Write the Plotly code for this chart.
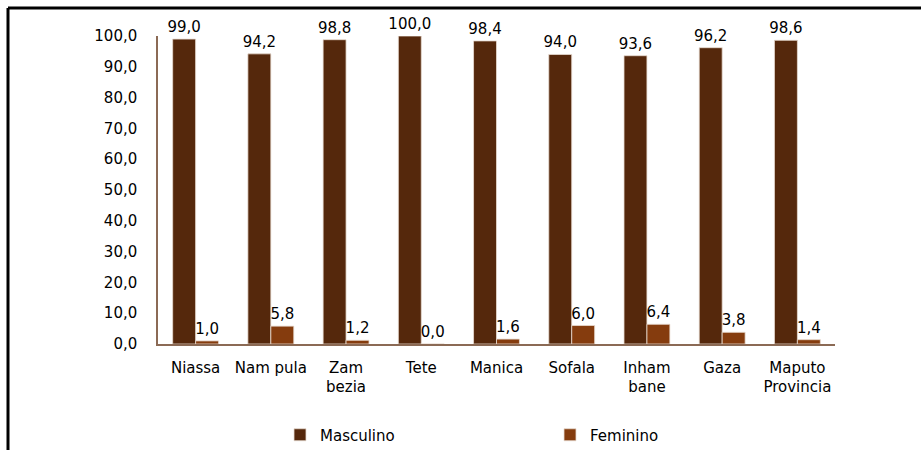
import plotly.graph_objects as go

categories = ["Niassa", "Nam pula", "Zam<br>bezia", "Tete", "Manica", "Sofala",
              "Inham<br>bane", "Gaza", "Maputo<br>Provincia"]
masculino = [99.0, 94.2, 98.8, 100.0, 98.4, 94.0, 93.6, 96.2, 98.6]
feminino = [1.0, 5.8, 1.2, 0.0, 1.6, 6.0, 6.4, 3.8, 1.4]
y_ticks = [0, 10, 20, 30, 40, 50, 60, 70, 80, 90, 100]

W, H = 921, 450
L, R, T, B = 158, 86, 36, 106
pw, ph = W - L - R, H - T - B

font = dict(family="DejaVu Sans", size=15, color="#000000")

fig = go.Figure()
fig.add_trace(go.Bar(
    name="Masculino", x=categories, y=masculino,
    marker=dict(color="#55280C", line=dict(color="#E9DCD2", width=0.8)),
    texttemplate="%{y:.1f}", textposition="outside", cliponaxis=False,
    constraintext="none", textfont=font,
))
fig.add_trace(go.Bar(
    name="Feminino", x=categories, y=feminino,
    marker=dict(color="#853C0E", line=dict(color="#E9DCD2", width=0.8)),
    texttemplate="%{y:.1f}", textposition="outside", cliponaxis=False,
    constraintext="none", textfont=font,
))

def px_x(p):
    return (p - L) / pw

def px_y(p):
    return (H - B - p) / ph

shapes = [
    dict(type="line", xref="paper", yref="paper",
         x0=px_x(8), x1=px_x(921), y0=px_y(8), y1=px_y(8),
         line=dict(color="#000000", width=3)),
    dict(type="line", xref="paper", yref="paper",
         x0=px_x(8), x1=px_x(8), y0=px_y(8), y1=px_y(450),
         line=dict(color="#000000", width=3)),
]

fig.update_layout(
    width=W, height=H,
    margin=dict(l=L, r=R, t=T, b=B, pad=0),
    paper_bgcolor="#FFFFFF", plot_bgcolor="#FFFFFF",
    separators=",.",
    barmode="group", bargap=0.39, bargroupgap=0.0,
    font=font,
    showlegend=True,
    legend=dict(orientation="h", xref="container", yref="container",
                x=280 / W, xanchor="left",
                y=1 - 435 / H, yanchor="middle",
                entrywidth=225, entrywidthmode="pixels",
                font=font, itemwidth=30, bgcolor="rgba(0,0,0,0)"),
    shapes=shapes,
    xaxis=dict(showline=True, linecolor="#8B6A55", linewidth=1.5,
               ticks="", tickfont=font, showgrid=False, automargin=False,
               ticklabelstandoff=9),
    yaxis=dict(range=[0, 100], tickvals=y_ticks, tickformat=".1f",
               showline=True, linecolor="#8B6A55", linewidth=1.5,
               ticks="", showgrid=False, zeroline=False,
               tickfont=font, automargin=False, ticklabelstandoff=16),
)

post = (
    "var gd=document.getElementById('{plot_id}');"
    "gd.style.position='absolute';gd.style.left='0px';gd.style.top='0px';"
    "document.body.style.margin='0px';document.body.style.overflow='hidden';"
    "document.documentElement.style.overflow='hidden';"
)

fig.write_html("out.html", config={"displayModeBar": False}, post_script=post)
